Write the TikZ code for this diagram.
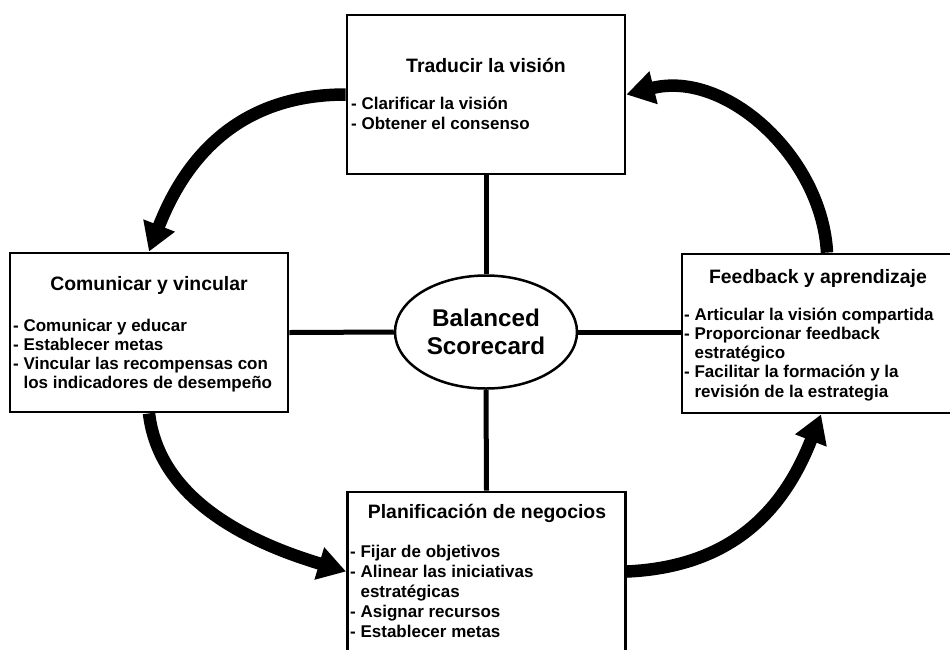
\documentclass[tikz,border=0pt]{standalone}
\usepackage{fontspec}
\setmainfont{Liberation Sans}
\usetikzlibrary{arrows.meta,shapes.geometric}

\begin{document}
\begin{tikzpicture}[x=1pt,y=-1pt,
  box/.style={draw, line width=2.8pt, minimum width=278pt, minimum height=159pt, inner sep=0pt, fill=white},
  hub/.style={draw, ellipse, line width=2.5pt, minimum width=182pt, minimum height=113pt, inner sep=0pt, align=center, font=\bfseries\fontsize{24.2}{28}\selectfont},
  boxtitle/.style={anchor=base, inner sep=0pt, font=\bfseries\fontsize{19.4}{22}\selectfont},
  item/.style={anchor=base west, inner sep=0pt, font=\bfseries\fontsize{17}{19.5}\selectfont},
  spoke/.style={line width=5pt},
  flowarrow/.style={line width=12.5pt, -{Triangle[length=28pt,width=32pt]}}
]
\useasboundingbox (0,0) rectangle (950,649);
\clip (0,0) rectangle (950,649);

% the four process boxes
\node[box] (vision) at (486,94.5) {};
\node[box] (comm)   at (149,332.5) {};
\node[box] (feed)   at (821,333.5) {};
\node[box] (plan)   at (486.5,571.5) {};

% central hub
\node[hub] (bsc) at (486,332) {Balanced\\Scorecard};

% spokes from the hub to each box
\draw[spoke] (vision.south) -- (bsc.north);
\draw[spoke] (bsc.south) -- (plan.north);
\draw[spoke] (comm.east) -- (bsc.west);
\draw[spoke] (bsc.east) -- (bsc.east -| feed.west);

% Traducir la vision
\node[boxtitle] (visionT) at (486,72) {Traducir la visión};
\node[item] (vision1) at (351,109) {- Clarificar la visión};
\node[item] (vision2) at (351,129) {- Obtener el consenso};

% Comunicar y vincular
\node[boxtitle] (commT) at (149,290) {Comunicar y vincular};
\node[item] (comm1) at (13,331) {- Comunicar y educar};
\node[item] (comm2) at (13,350) {- Establecer metas};
\node[item] (comm3) at (13,369) {- Vincular las recompensas con};
\node[item] (comm4) at (13,388) {\phantom{- }los indicadores de desempeño};

% Feedback y aprendizaje
\node[boxtitle] (feedT) at (818,283) {Feedback y aprendizaje};
\node[item] (feed1) at (684,320) {- Articular la visión compartida};
\node[item] (feed2) at (684,339) {- Proporcionar feedback};
\node[item] (feed3) at (684,358) {\phantom{- }estratégico};
\node[item] (feed4) at (684,377) {- Facilitar la formación y la};
\node[item] (feed5) at (684,397) {\phantom{- }revisión de la estrategia};

% Planificacion de negocios
\node[boxtitle] (planT) at (487,518) {Planificación de negocios};
\node[item] (plan1) at (350,557) {- Fijar de objetivos};
\node[item] (plan2) at (350,577) {- Alinear las iniciativas};
\node[item] (plan3) at (350,597) {\phantom{- }estratégicas};
\node[item] (plan4) at (350,617) {- Asignar recursos};
\node[item] (plan5) at (350,637) {- Establecer metas};

% the counter-clockwise cycle of thick arrows
\coordinate (feedOut) at ([xshift=6pt]feed.north);
\draw[flowarrow] (vision.west) .. controls +(-110,0) and +(35,-90) .. (comm.north);
\draw[flowarrow] (comm.south) .. controls +(10,85) and +(-100,-30) .. (plan.west);
\draw[flowarrow] (plan.east) .. controls +(110,-5) and +(-35,90) .. (feed.south);
\draw[flowarrow] (feedOut) .. controls +(-5,-95) and +(100,-25) .. (vision.east);
\end{tikzpicture}
\end{document}
